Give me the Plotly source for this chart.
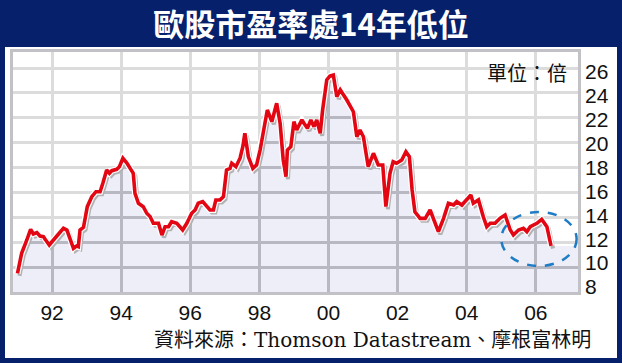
import plotly.graph_objects as go

# ---------------- data ----------------
YEARS = [1991.00, 1991.12, 1991.27, 1991.38, 1991.46, 1991.56, 1991.65, 1991.75, 1991.80, 1991.92,
         1992.04, 1992.18, 1992.33, 1992.43, 1992.52, 1992.62, 1992.71, 1992.76, 1992.81, 1992.91,
         1993.02, 1993.15, 1993.27, 1993.39, 1993.47, 1993.58, 1993.66, 1993.73, 1993.87, 1993.95,
         1994.05, 1994.16, 1994.35, 1994.40, 1994.50, 1994.64, 1994.74, 1994.84, 1994.93, 1995.08,
         1995.18, 1995.27, 1995.37, 1995.46, 1995.61, 1995.78, 1995.90, 1996.04, 1996.14, 1996.23,
         1996.36, 1996.48, 1996.57, 1996.67, 1996.74, 1996.86, 1996.96, 1997.05, 1997.15, 1997.20,
         1997.32, 1997.44, 1997.52, 1997.58, 1997.68, 1997.81, 1997.92, 1998.02, 1998.12, 1998.23,
         1998.36, 1998.50, 1998.60, 1998.69, 1998.77, 1998.81, 1998.91, 1999.00, 1999.08, 1999.23,
         1999.29, 1999.39, 1999.49, 1999.58, 1999.66, 1999.76, 1999.83, 1999.95, 2000.04, 2000.14,
         2000.24, 2000.34, 2000.53, 2000.72, 2000.82, 2000.91, 2001.01, 2001.06, 2001.15, 2001.30,
         2001.44, 2001.57, 2001.66, 2001.78, 2001.87, 2001.97, 2002.12, 2002.24, 2002.34, 2002.42,
         2002.50, 2002.65, 2002.80, 2002.94, 2003.06, 2003.18, 2003.33, 2003.47, 2003.62, 2003.71,
         2003.86, 2004.00, 2004.12, 2004.19, 2004.34, 2004.48, 2004.58, 2004.68, 2004.82, 2004.96,
         2005.11, 2005.26, 2005.35, 2005.50, 2005.64, 2005.74, 2005.84, 2006.03, 2006.17, 2006.32,
         2006.44]
PE = [9.50, 11.11, 12.18, 13.04, 12.66, 12.77, 12.50, 12.45, 12.24, 11.78,
      12.18, 12.64, 13.12, 12.98, 12.32, 11.51, 11.70, 11.64, 12.98, 13.20,
      14.86, 15.66, 16.06, 16.06, 16.74, 17.81, 17.54, 17.75, 17.86, 18.07,
      18.75, 18.39, 17.54, 15.93, 15.13, 14.86, 14.33, 14.05, 13.52, 13.52,
      12.58, 13.25, 13.25, 13.65, 13.52, 12.98, 13.52, 14.33, 14.59, 15.13,
      15.26, 14.86, 14.59, 14.59, 15.40, 15.40, 15.66, 17.81, 17.94, 18.35,
      18.07, 18.75, 19.68, 20.76, 18.88, 17.94, 18.21, 19.41, 21.02, 22.63,
      21.69, 23.17, 21.56, 18.61, 17.27, 19.41, 19.68, 21.69, 21.02, 21.83,
      21.56, 21.16, 21.83, 21.29, 21.83, 20.76, 22.63, 25.04, 25.36, 25.44,
      23.70, 24.24, 23.43, 22.49, 20.48, 21.02, 20.48, 19.68, 18.07, 19.15,
      18.21, 18.21, 14.86, 17.54, 18.47, 18.35, 18.61, 19.28, 18.88, 16.20,
      14.45, 13.92, 13.92, 14.59, 13.63, 12.85, 13.92, 15.13, 14.99, 15.26,
      14.99, 15.40, 15.80, 15.13, 15.40, 14.05, 13.25, 13.52, 13.52, 13.92,
      14.19, 12.98, 12.58, 12.98, 13.12, 12.85, 13.25, 13.52, 13.84, 13.25,
      11.70]

X_TICKS = [1992, 1994, 1996, 1998, 2000, 2002, 2004, 2006]
X_LABELS = ["92", "94", "96", "98", "00", "02", "04", "06"]
Y_TICKS = [8, 10, 12, 14, 16, 18, 20, 22, 24, 26]

TITLE = "歐股市盈率處14年低位"
UNIT = "單位：倍"
SOURCE = "資料來源：Thomson Datastream、摩根富林明"

# highlighted (dashed ellipse) region, in data units
HL_X = [2005.00, 2007.18]
HL_Y = [10.09, 14.43]

# ---------------- layout geometry ----------------
W, H = 622, 363
L, R, T, B = 13, 44, 52, 71
PW, PH = W - L - R, H - T - B
X_RANGE = [1990.87, 2007.22]
Y_RANGE = [8.0, 27.29]
LABEL_RANGE = [7.58, 27.67]

NAVY = "#06206b"
RED = "#e30613"


def px_x(p):
    return (p - L) / PW


def px_y(p):
    return (H - B - p) / PH


dx = 2.0 * (X_RANGE[1] - X_RANGE[0]) / PW
dy = 2.5 * (Y_RANGE[1] - Y_RANGE[0]) / PH

fill_x = [X_RANGE[0]] + YEARS + [X_RANGE[1]]
fill_y = [PE[0]] + PE + [PE[-1]]

fig = go.Figure()
# lighten area above the curve (gridlines look pale there)
fig.add_trace(go.Scatter(x=fill_x, y=[Y_RANGE[1]] * len(fill_x), mode="lines",
                         line=dict(width=0), hoverinfo="skip", showlegend=False))
fig.add_trace(go.Scatter(x=fill_x, y=fill_y, mode="lines", fill="tonexty",
                         fillcolor="rgba(255,255,255,0.6)", line=dict(width=0),
                         hoverinfo="skip", showlegend=False))
# lavender area below the curve
fig.add_trace(go.Scatter(x=fill_x, y=fill_y, mode="lines", fill="tozeroy",
                         fillcolor="rgba(210,210,236,0.38)", line=dict(width=0),
                         hoverinfo="skip", showlegend=False))
# shadow of the line (offset axes)
fig.add_trace(go.Scatter(x=YEARS, y=PE, mode="lines", xaxis="x2", yaxis="y2",
                         line=dict(color="#b2b2b2", width=4), hoverinfo="skip", showlegend=False))
# white halo + red line
fig.add_trace(go.Scatter(x=YEARS, y=PE, mode="lines", xaxis="x3", yaxis="y3",
                         line=dict(color="white", width=6), hoverinfo="skip", showlegend=False))
fig.add_trace(go.Scatter(x=YEARS, y=PE, mode="lines", xaxis="x3", yaxis="y3",
                         line=dict(color=RED, width=3.6), showlegend=False))
# carrier for the right-hand label axis
fig.add_trace(go.Scatter(x=[None], y=[None], xaxis="x", yaxis="y4", mode="markers",
                         hoverinfo="skip", showlegend=False))

grid = "#a8a8a8"
frame = "#c2c2c6"
fig.update_layout(
    width=W, height=H,
    margin=dict(l=L, r=R, t=T, b=B, pad=0),
    paper_bgcolor=NAVY,
    plot_bgcolor="white",
    showlegend=False,
    title=dict(text=TITLE, x=0.5, xref="container", xanchor="center",
               y=1 - 25 / H, yref="container", yanchor="middle",
               font=dict(family="Noto Sans CJK TC", size=31, color="white", weight="bold")),
    xaxis=dict(range=X_RANGE, tickvals=X_TICKS, ticktext=X_LABELS, showgrid=True,
               gridcolor=grid, gridwidth=2.5, showline=True, mirror=True,
               linecolor=frame, linewidth=2.5, ticks="", zeroline=False,
               tickfont=dict(family="Liberation Sans, Arial", size=21, color="#111111")),
    yaxis=dict(range=Y_RANGE, tickvals=Y_TICKS, showticklabels=False, showgrid=True,
               gridcolor=grid, gridwidth=2.5, showline=True, mirror=True,
               linecolor=frame, linewidth=2.5, ticks="", zeroline=False),
    xaxis2=dict(overlaying="x", range=[X_RANGE[0] - dx, X_RANGE[1] - dx], visible=False),
    yaxis2=dict(overlaying="y", range=[Y_RANGE[0] + dy, Y_RANGE[1] + dy], visible=False),
    xaxis3=dict(overlaying="x", range=X_RANGE, visible=False),
    yaxis3=dict(overlaying="y", range=Y_RANGE, visible=False),
    yaxis4=dict(overlaying="y", anchor="x", side="right", range=LABEL_RANGE,
                tickvals=Y_TICKS, showgrid=False, showline=False, zeroline=False,
                ticks="", ticklabelstandoff=6,
                tickfont=dict(family="Liberation Sans Narrow, Arial Narrow, Liberation Sans",
                              size=21, color="#111111")),
)

# white panel behind the chart
fig.add_shape(type="rect", xref="paper", yref="paper",
              x0=px_x(5), x1=px_x(617), y0=px_y(358), y1=px_y(47),
              fillcolor="white", line=dict(width=0), layer="below")

# dashed ellipse highlighting the latest low
fig.add_shape(type="circle", xref="x", yref="y",
              x0=HL_X[0], x1=HL_X[1], y0=HL_Y[0], y1=HL_Y[1],
              line=dict(color="#1f7cc6", width=2.5, dash="dash"), layer="above")

fig.add_annotation(text=UNIT, xref="paper", yref="paper", x=px_x(569), y=px_y(72),
                   xanchor="right", yanchor="middle", showarrow=False,
                   font=dict(family="Noto Sans CJK TC", size=20, color="#111111"))
fig.add_annotation(text=SOURCE, xref="paper", yref="paper", x=px_x(593), y=px_y(340),
                   xanchor="right", yanchor="middle", showarrow=False,
                   font=dict(family="DejaVu Serif, Noto Sans CJK TC", size=20, color="#111111"))

fig.write_html("out.html")
